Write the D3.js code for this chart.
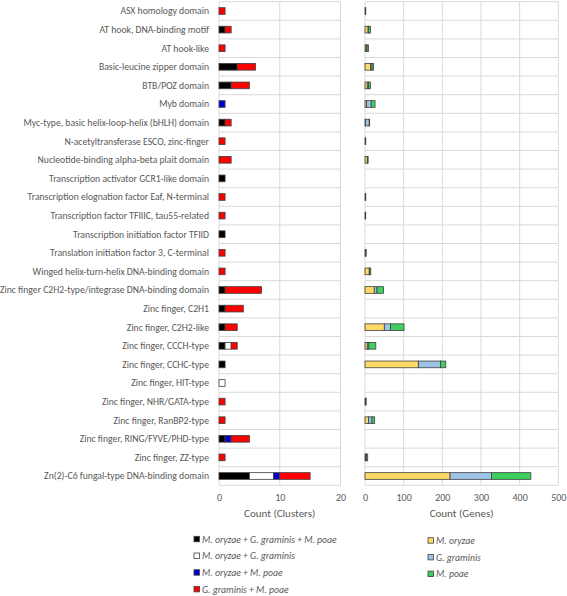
<!DOCTYPE html>
<html><head><meta charset="utf-8">
<script src="https://cdn.jsdelivr.net/npm/d3@7"></script>
<style>body{margin:0;background:#fff}svg{display:block}text{font-family:Carlito,Lato,"Liberation Sans",sans-serif;fill:#595959}</style>
</head><body><svg id="c" width="567" height="596"></svg>
<script>
const categories = ["ASX homology domain","AT hook, DNA-binding motif","AT hook-like","Basic-leucine zipper domain","BTB/POZ domain","Myb domain","Myc-type, basic helix-loop-helix (bHLH) domain","N-acetyltransferase ESCO, zinc-finger","Nucleotide-binding alpha-beta plait domain","Transcription activator GCR1-like domain","Transcription elognation factor  Eaf, N-terminal","Transcription factor TFIIIC, tau55-related","Transcription initiation factor TFIID","Translation initiation factor 3, C-terminal","Winged helix-turn-helix DNA-binding domain","Zinc finger C2H2-type/integrase DNA-binding domain","Zinc finger, C2H1","Zinc finger, C2H2-like","Zinc finger, CCCH-type","Zinc finger, CCHC-type","Zinc finger, HIT-type","Zinc finger, NHR/GATA-type","Zinc finger, RanBP2-type","Zinc finger, RING/FYVE/PHD-type","Zinc finger, ZZ-type","Zn(2)-C6 fungal-type DNA-binding domain"];
// Clusters
const clusterSeries = ["M. oryzae + G. graminis + M. poae","M. oryzae + G. graminis","M. oryzae + M. poae","G. graminis + M. poae"];
const allThree   = [0,1,0,3,2,0,1,0,0,1,0,0,1,0,0,1,1,1,1,1,0,0,0,1,0,5];
const moGg       = [0,0,0,0,0,0,0,0,0,0,0,0,0,0,0,0,0,0,1,0,1,0,0,0,0,4];
const moMp       = [0,0,0,0,0,1,0,0,0,0,0,0,0,0,0,0,0,0,0,0,0,0,0,1,0,1];
const ggMp       = [1,1,1,3,3,0,1,1,2,0,1,1,0,1,1,6,3,2,1,0,0,1,1,3,1,5];
// Genes
const geneSeries = ["M. oryzae","G. graminis","M. poae"];
const genesMo = [1,8,3,14,6,4,1,0,6,0,1,1,0,1,11,24,0,50,6,138,0,1,9,0,2,220];
const genesGg = [0,1,2,4,3,12,10,1,1,0,0,0,0,1,1,7,0,16,4,57,0,1,9,0,2,107];
const genesMp = [1,5,4,4,5,10,1,1,1,0,1,1,0,1,3,17,0,35,18,14,0,1,7,0,3,102];
const clusterTicks = [0,10,20];
const geneTicks = [0,100,200,300,400,500];

const clusterColors = ["#000000","#ffffff","#0000cc","#ff0000"];
const geneColors = ["#ffd966","#9dc3e6","#3dcf5f"];
const grid = "#d9d9d9", stroke = "#404040";

const svg = d3.select("#c");
const y = d3.scaleBand().domain(categories).range([1.7, 485.3]).paddingInner(0.64).paddingOuter(0.32);
const step = y.step();
const xL = d3.scaleLinear().domain([0,20]).range([219, 340.5]);
const xR = d3.scaleLinear().domain([0,500]).range([365, 558.3]);

function panel(x, ticks, seriesVals, colors, title) {
  const g = svg.append("g");
  for (let i = 0; i <= categories.length; i++) {
    const yy = y.range()[0] + i*step;
    g.append("line").attr("x1", x.range()[0]).attr("x2", x.range()[1]).attr("y1", yy).attr("y2", yy)
      .attr("stroke", grid).attr("stroke-width", 1);
  }
  ticks.forEach(t => g.append("line").attr("x1", x(t)).attr("x2", x(t)).attr("y1", y.range()[0]).attr("y2", y.range()[1])
      .attr("stroke", grid).attr("stroke-width", 1));
  const data = categories.map((c, i) => { const o = {cat: c}; seriesVals.forEach((s, k) => o["s"+k] = s[i]); return o; });
  const keys = seriesVals.map((s, k) => "s"+k);
  const stack = d3.stack().keys(keys)(data);
  stack.forEach((layer, k) => {
    g.selectAll(null).data(layer.filter(d => d[1] - d[0] > 0)).enter().append("rect")
      .attr("x", d => x(d[0])).attr("width", d => x(d[1]) - x(d[0]))
      .attr("y", d => y(d.data.cat)).attr("height", y.bandwidth())
      .attr("fill", colors[k]).attr("stroke", stroke).attr("stroke-width", 0.8);
  });
  const ax = g.append("g").attr("transform", "translate(0,485.3)")
    .call(d3.axisBottom(x).tickValues(ticks).tickSize(0).tickPadding(9).tickFormat(d3.format("d")));
  ax.select(".domain").remove();
  ax.selectAll("text").style("font-size", "10px").attr("fill", "#595959").style("font-family", "Carlito,Lato,'Liberation Sans',sans-serif");
  g.append("text").attr("x", (x.range()[0]+x.range()[1])/2).attr("y", 517).attr("text-anchor", "middle")
    .style("font-size", "11px").text(title);
}

panel(xL, clusterTicks, [allThree, moGg, moMp, ggMp], clusterColors, "Count (Clusters)");
panel(xR, geneTicks, [genesMo, genesGg, genesMp], geneColors, "Count (Genes)");

svg.append("g").selectAll("text").data(categories).enter().append("text")
  .attr("x", 209).attr("y", d => y(d) + y.bandwidth()/2).attr("dy", "0.35em")
  .attr("text-anchor", "end").style("font-size", "9.7px").text(d => d);

function legend(names, colors, x0, y0) {
  const lg = svg.append("g");
  names.forEach((n, i) => {
    const yy = y0 + i*16.7;
    lg.append("rect").attr("x", x0).attr("y", yy - 3).attr("width", 5.5).attr("height", 5.5)
      .attr("fill", colors[i]).attr("stroke", stroke).attr("stroke-width", 0.8);
    lg.append("text").attr("x", x0 + 8).attr("y", yy).attr("dy", "0.35em")
      .style("font-size", "9.7px").style("font-style", "italic").text(n);
  });
}
legend(clusterSeries, clusterColors, 194, 539.3);
legend(geneSeries, geneColors, 428, 540.7);
</script></body></html>
